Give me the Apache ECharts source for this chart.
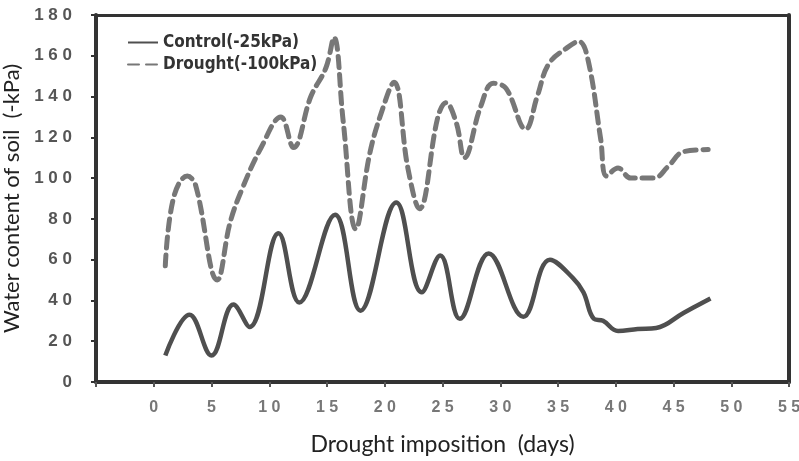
<!DOCTYPE html>
<html>
<head>
<meta charset="utf-8">
<script src="https://cdn.jsdelivr.net/npm/echarts@6/dist/echarts.min.js"></script>
<style>
  html, body { margin: 0; padding: 0; background: #fff; }
  #chart { width: 799px; height: 461px; }
</style>
</head>
<body>
<div id="chart"></div>
<script>
const seriesNames = [ 'Control(-25kPa)', 'Drought(-100kPa)' ]

const controlDays = [ 1, 3.1, 5, 6.9, 8.3, 10.8, 12.6, 15.7, 17.9, 21, 23.2, 24.8, 26.5, 29, 32, 34.3, 36.3, 37.2, 38.1, 38.9, 40.2, 41.9, 43.5, 45.9, 48.2 ]
const controlValues = [ 13, 33, 13, 38, 27, 73, 39, 82, 35, 88, 44, 62, 31, 63, 32, 60, 51, 44, 31, 30, 25, 26, 26.5, 34, 41 ]

const droughtDays = [ 1, 1.7, 2.9, 3.6, 5.5, 6.6, 7.6, 9.3, 11, 12.1, 13.6, 14.9, 15.6, 16.4, 17.5, 18.7, 19.7, 20.8, 22, 23, 24.6, 25.3, 26.2, 26.9, 28.3, 29.4, 30.5, 32.2, 33.2, 34.2, 35.8, 36.8, 37.6, 38.7, 39.2, 40.2, 41.3, 43.3, 44.5, 45.9, 48 ]
const droughtValues = [ 57, 90, 101, 97, 50, 78, 94, 115, 130, 115, 140, 154, 169, 128, 75, 112, 132, 147, 105, 85, 130, 137, 127, 110, 135, 146.5, 144, 124, 140, 156, 164, 167, 158, 119, 101, 105, 100, 100, 105.5, 113, 114 ]

const xTicks = { min: -5, max: 55, step: 5 }
const yTicks = { min: 0, max: 180, step: 20 }

const chart = echarts.init(document.getElementById('chart'))

// digits are printed spaced out, like the original figure
const spaced = v => String(v).split('').join(' ')

// plain frame lines for the top and right edges
const frameAxis = {
  axisLine: { show: true, onZero: false, lineStyle: { color: '#333', width: 3 } },
  axisTick: { show: false },
  axisLabel: { show: false },
  splitLine: { show: false }
}

const option = {
  animation: false,
  backgroundColor: '#fff',
  grid: {
    left: 96,
    right: 10,
    top: 15,
    bottom: 79,
    containLabel: false,
    outerBoundsMode: 'none'
  },
  legend: {
    orient: 'vertical',
    left: 122,
    top: 29,
    itemWidth: 30,
    itemHeight: 14,
    itemGap: 5,
    data: seriesNames,
    itemStyle: { opacity: 0 },
    textStyle: {
      fontFamily: 'DejaVu Sans Condensed',
      fontWeight: 'bold',
      fontSize: 17,
      color: '#333'
    }
  },
  xAxis: [
    {
      type: 'value',
      min: xTicks.min,
      max: xTicks.max,
      interval: xTicks.step,
      name: 'Drought imposition  (days)',
      nameLocation: 'middle',
      nameGap: 51,
      nameTextStyle: { fontFamily: 'Lato', fontSize: 23, color: '#222' },
      splitLine: { show: false },
      axisLine: { onZero: false, lineStyle: { color: '#333', width: 4 } },
      axisTick: { length: 5, lineStyle: { color: '#555', width: 2 } },
      axisLabel: {
        margin: 18,
        fontFamily: 'Liberation Sans',
        fontWeight: 'bold',
        fontSize: 16,
        color: '#777',
        formatter: v => v < 0 ? '' : spaced(v)
      }
    },
    Object.assign({ type: 'value', position: 'top', min: xTicks.min, max: xTicks.max }, frameAxis)
  ],
  yAxis: [
    {
      type: 'value',
      min: yTicks.min,
      max: yTicks.max,
      interval: yTicks.step,
      name: 'Water content of soil  (-kPa)',
      nameLocation: 'middle',
      nameGap: 68,
      nameTextStyle: { fontFamily: 'Lato', fontSize: 22, color: '#222' },
      splitLine: { show: false },
      axisLine: { show: true, onZero: false, lineStyle: { color: '#333', width: 4 } },
      axisTick: { show: true, length: 5, lineStyle: { color: '#333', width: 2 } },
      axisLabel: {
        margin: 24,
        fontFamily: 'Liberation Sans',
        fontWeight: 'bold',
        fontSize: 17,
        color: '#555',
        formatter: spaced
      }
    },
    Object.assign({ type: 'value', position: 'right', min: yTicks.min, max: yTicks.max }, frameAxis, {
      axisLine: { show: true, onZero: false, lineStyle: { color: '#333', width: 4 } }
    })
  ],
  series: [
    {
      name: seriesNames[0],
      type: 'line',
      smooth: 0.4,
      symbol: 'none',
      lineStyle: { color: '#4f4f4f', width: 4.5 },
      itemStyle: { color: '#4f4f4f' },
      data: controlDays.map((d, i) => [ d, controlValues[i] ])
    },
    {
      name: seriesNames[1],
      type: 'line',
      smooth: 0.4,
      symbol: 'none',
      lineStyle: { color: '#777', width: 5, type: [ 11, 7 ], cap: 'round' },
      itemStyle: { color: '#777' },
      data: droughtDays.map((d, i) => [ d, droughtValues[i] ])
    }
  ]
}

chart.setOption(option)
</script>
</body>
</html>
